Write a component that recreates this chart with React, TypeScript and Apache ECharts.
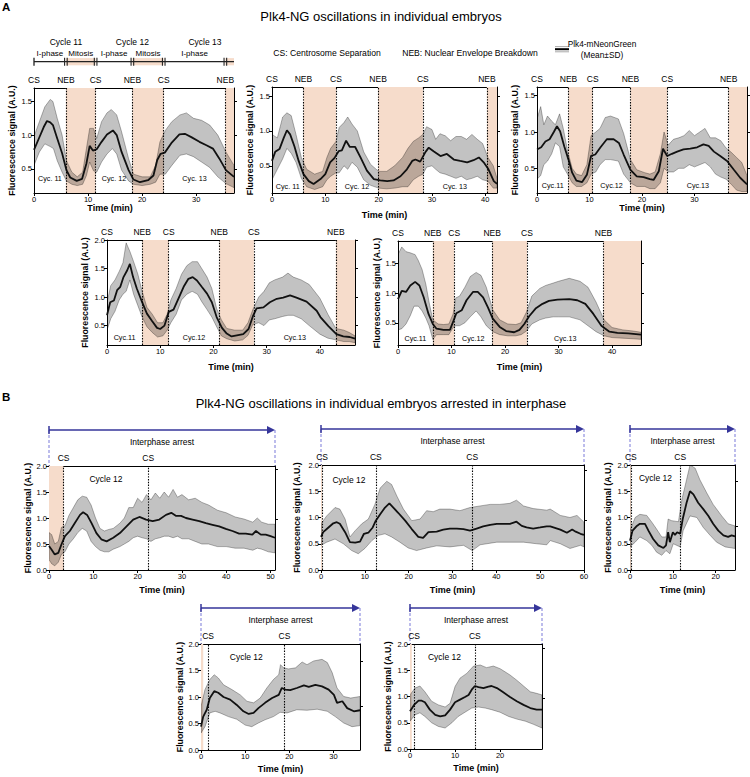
import { useEffect, useRef } from "react";
import * as echarts from "echarts";

type Pt = [number, number];
type Ev = [string, number, boolean];
type Cy = [string, number, number];

// ---------------- Panel A data ----------------
const a1Mean: Pt[] = [[0,0.78],[0.9,0.95],[1.8,1.12],[2.4,1.21],[3.0,1.19],[3.5,1.15],[4.3,0.95],[5.2,0.73],[6.0,0.48],[6.7,0.37],[7.9,0.32],[8.9,0.35],[9.7,0.58],[10.3,0.84],[10.9,0.77],[11.6,0.79],[12.5,0.9],[13.5,1.01],[14.6,1.07],[15.3,1.0],[16.2,0.75],[17.5,0.48],[18.4,0.34],[19.6,0.3],[21.1,0.33],[22.1,0.4],[22.8,0.63],[23.4,0.72],[24.2,0.74],[25.4,0.88],[26.9,1.01],[27.9,1.02],[29.1,0.97],[30.6,0.9],[31.9,0.85],[33.1,0.8],[34.3,0.65],[35.5,0.48],[37,0.38]];
const a1Upper: Pt[] = [[0,0.98],[1,1.2],[2,1.42],[3,1.53],[3.5,1.5],[4.3,1.25],[5.2,1.0],[6,0.62],[7,0.45],[8,0.38],[9,0.45],[9.7,0.8],[10.3,1.1],[11,1.1],[11.6,0.95],[12.5,1.2],[13.5,1.33],[14.3,1.38],[15.3,1.3],[16.2,1.05],[17.5,0.65],[18.4,0.42],[20,0.38],[21.5,0.38],[22.5,0.55],[23.3,0.9],[24.3,1.07],[25.5,1.2],[27,1.3],[28.2,1.33],[29.5,1.25],[31,1.22],[32.5,1.15],[34,1.0],[35.5,0.75],[37,0.55]];
const a1Lower: Pt[] = [[0,0.55],[1,0.75],[2,0.87],[3,0.83],[3.6,0.8],[4.3,0.62],[5.2,0.45],[6,0.32],[7,0.27],[8,0.25],[9,0.27],[9.7,0.4],[10.3,0.6],[11,0.47],[11.6,0.45],[12.5,0.6],[13.5,0.72],[14.5,0.8],[15.3,0.72],[16.2,0.48],[17.5,0.32],[18.4,0.27],[20,0.25],[21.5,0.27],[22.5,0.3],[23.3,0.42],[24.3,0.42],[25.5,0.55],[27,0.7],[28.2,0.72],[29.5,0.68],[31,0.6],[32.5,0.52],[34,0.38],[35.5,0.28],[37,0.22]];
const a1Events: Ev[] = [["CS",0,false],["NEB",5.9,true],["CS",11.4,true],["NEB",18.2,true],["CS",24.0,true],["NEB",35.4,true]];
const a1Mitosis: Pt[] = [[5.9,11.4],[18.2,24.0],[35.4,37]];
const a1Cycles: Cy[] = [["Cyc. 11",0,5.9],["Cyc. 12",11.4,18.2],["Cyc. 13",24.0,35.4]];

const a2Mean: Pt[] = [[0,0.57],[0.6,0.7],[1.4,0.74],[2.2,0.9],[2.8,1.01],[3.4,0.95],[4.2,0.78],[5.0,0.57],[5.9,0.38],[6.9,0.28],[7.8,0.24],[9.1,0.31],[10,0.38],[10.9,0.55],[11.7,0.61],[12.5,0.71],[13.1,0.72],[13.9,0.86],[14.6,0.77],[15.6,0.77],[16.6,0.62],[17.8,0.43],[19.1,0.31],[20.3,0.29],[21.6,0.28],[22.8,0.29],[24.1,0.35],[25.3,0.45],[26.3,0.57],[26.9,0.59],[27.8,0.56],[28.8,0.7],[29.4,0.76],[30.3,0.71],[31.6,0.64],[32.8,0.67],[34.1,0.59],[35.3,0.57],[36.6,0.55],[37.8,0.58],[38.8,0.62],[39.7,0.55],[40.6,0.45],[41.6,0.28],[42.2,0.24]];
const a2Upper: Pt[] = [[0,0.95],[1,0.9],[2,1.2],[2.8,1.26],[3.6,1.22],[4.5,0.95],[5.5,0.62],[6.5,0.45],[8,0.38],[9.5,0.42],[10.3,0.62],[11,0.75],[12,0.85],[12.6,1.05],[13.5,1.12],[14.2,1.2],[15,1.1],[16,1.0],[17.2,0.7],[18.5,0.52],[20,0.42],[21.5,0.42],[23,0.5],[24.5,0.62],[25.5,0.75],[26.5,0.85],[27.5,0.9],[28.3,0.95],[29,1.06],[30,1.02],[30.7,0.88],[31.5,0.96],[32.5,0.93],[33.5,0.86],[34.5,0.92],[35.5,0.92],[36.5,0.88],[37.5,0.95],[38.5,0.88],[39.5,0.82],[40.5,0.62],[41.5,0.5],[42.2,0.32]];
const a2Lower: Pt[] = [[0,0.3],[1,0.45],[2,0.6],[2.8,0.75],[3.6,0.68],[4.5,0.55],[5.5,0.32],[6.5,0.2],[8,0.16],[9.5,0.2],[10.3,0.3],[11,0.35],[12,0.4],[12.6,0.4],[13.5,0.5],[14.2,0.45],[15,0.55],[16,0.48],[17.2,0.3],[18.5,0.22],[20,0.18],[21.5,0.17],[23,0.18],[24.5,0.2],[25.5,0.2],[26.5,0.3],[27.5,0.35],[28.3,0.38],[29,0.48],[30,0.5],[30.7,0.45],[31.5,0.4],[32.5,0.38],[33.5,0.35],[34.5,0.32],[35.5,0.35],[36.5,0.3],[37.5,0.32],[38.5,0.35],[39.5,0.3],[40.5,0.28],[41.5,0.18],[42.2,0.18]];
const a2Events: Ev[] = [["CS",0,false],["NEB",5.9,true],["CS",12.0,true],["NEB",19.9,true],["CS",28.3,true],["NEB",40.3,true]];
const a2Mitosis: Pt[] = [[5.9,12.0],[19.9,28.3],[40.3,42.2]];
const a2Cycles: Cy[] = [["Cyc. 11",0,5.9],["Cyc. 12",12.0,19.9],["Cyc. 13",28.3,40.3]];

const a3Mean: Pt[] = [[0,0.76],[0.8,0.79],[1.6,0.87],[2.4,0.9],[3.2,1.0],[3.8,1.08],[4.4,1.01],[5.2,0.8],[6.0,0.62],[6.7,0.44],[7.5,0.33],[8.6,0.31],[9.5,0.41],[10.3,0.67],[11.1,0.69],[12.1,0.79],[13.3,0.9],[14.6,0.9],[15.6,0.85],[16.5,0.69],[17.8,0.48],[19.0,0.39],[20.3,0.38],[21.5,0.35],[22.2,0.34],[23.2,0.46],[24.0,0.77],[24.8,0.67],[25.7,0.7],[26.7,0.73],[27.9,0.76],[29.2,0.77],[30.5,0.79],[31.7,0.83],[32.7,0.81],[33.7,0.73],[34.9,0.67],[36.2,0.6],[37.5,0.48],[38.7,0.37],[40,0.28]];
const a3Upper: Pt[] = [[0,1.18],[0.7,1.35],[1.3,1.1],[2,1.22],[2.8,1.15],[3.5,1.1],[4.3,1.25],[5,1.05],[5.8,0.75],[6.7,0.5],[7.5,0.42],[8.5,0.4],[9.5,0.55],[10.3,0.95],[11.2,1.0],[12,1.05],[13,1.2],[14,1.22],[15.5,1.18],[16.5,0.98],[17.8,0.62],[19,0.48],[20.5,0.44],[21.5,0.42],[22.5,0.45],[23.5,0.7],[24.2,1.0],[25,0.82],[26,0.9],[27,0.92],[28,0.95],[29,1.02],[30,0.95],[31,1.0],[32,1.05],[33,0.92],[34,0.92],[35,0.88],[36,0.78],[37,0.72],[38,0.65],[39,0.58],[40,0.4]];
const a3Lower: Pt[] = [[0,0.35],[0.7,0.4],[1.3,0.55],[2,0.6],[2.8,0.7],[3.5,0.85],[4.3,0.8],[5,0.52],[5.8,0.42],[6.7,0.3],[7.5,0.25],[8.5,0.25],[9.5,0.3],[10.3,0.42],[11.2,0.45],[12,0.55],[13,0.62],[14,0.62],[15.5,0.6],[16.5,0.42],[17.8,0.3],[19,0.25],[20.5,0.25],[21.5,0.22],[22.5,0.22],[23.5,0.3],[24.2,0.5],[25,0.45],[26,0.45],[27,0.5],[28,0.5],[29,0.55],[30,0.52],[31,0.55],[32,0.58],[33,0.52],[34,0.42],[35,0.38],[36,0.35],[37,0.28],[38,0.2],[39,0.18],[40,0.18]];
const a3Events: Ev[] = [["CS",0,false],["NEB",6.0,true],["CS",10.6,true],["NEB",17.8,true],["CS",24.8,true],["NEB",36.5,true]];
const a3Mitosis: Pt[] = [[6.0,10.6],[17.8,24.8],[36.5,40]];
const a3Cycles: Cy[] = [["Cyc.11",0,6.0],["Cyc.12",10.6,17.8],["Cyc.13",24.8,36.5]];

const a4Mean: Pt[] = [[0,0.68],[0.6,0.91],[1.3,0.94],[1.9,1.12],[2.5,1.18],[3.1,1.35],[3.8,1.47],[4.3,1.58],[4.9,1.35],[5.6,1.15],[6.6,0.91],[7.5,0.71],[8.4,0.59],[9.4,0.46],[10,0.44],[10.8,0.5],[11.6,0.74],[12.5,0.78],[13.4,0.97],[14.4,1.18],[15.3,1.32],[16.1,1.35],[16.9,1.29],[17.8,1.18],[18.8,1.06],[19.7,0.91],[20.6,0.65],[21.6,0.46],[22.5,0.36],[23.4,0.31],[24.4,0.33],[25.6,0.35],[26.6,0.44],[27.4,0.66],[28.1,0.8],[29.4,0.82],[30.6,0.91],[31.9,0.97],[33.1,0.99],[34.4,1.03],[35.6,0.99],[37.5,0.92],[39.4,0.76],[40.1,0.65],[41.6,0.49],[43.1,0.35],[44.4,0.31],[45.6,0.3],[46.6,0.27]];
const a4Upper: Pt[] = [[0,0.9],[0.7,1.2],[1.5,1.3],[2.3,1.45],[3,1.6],[3.6,1.95],[4.3,1.8],[5,1.62],[5.8,1.4],[6.6,1.1],[7.5,0.82],[8.5,0.7],[9.5,0.55],[10.5,0.55],[11.3,0.7],[12,0.95],[13,1.15],[14,1.4],[15,1.55],[16,1.62],[17,1.62],[17.8,1.5],[18.8,1.35],[19.7,1.15],[20.6,0.8],[21.5,0.6],[22.5,0.45],[24,0.42],[25.5,0.42],[26.5,0.55],[27.4,0.78],[28.5,1.0],[29.5,1.1],[30.5,1.25],[31.5,1.3],[33,1.35],[34,1.42],[35,1.35],[36.5,1.3],[38,1.22],[40,0.98],[41.5,0.7],[43,0.45],[44.5,0.42],[45.5,0.38],[46.6,0.32]];
const a4Lower: Pt[] = [[0,0.42],[0.7,0.62],[1.5,0.75],[2.3,0.95],[3,1.05],[3.6,1.1],[4.3,1.3],[5,1.05],[5.8,0.85],[6.6,0.65],[7.5,0.48],[8.5,0.38],[9.5,0.3],[10.5,0.32],[11.3,0.42],[12,0.55],[13,0.7],[14,0.95],[15,1.05],[16,1.1],[17,1.05],[17.8,0.92],[18.8,0.78],[19.7,0.65],[20.6,0.48],[21.5,0.32],[22.5,0.27],[24,0.23],[25.5,0.25],[26.5,0.33],[27.4,0.52],[28.5,0.55],[29.5,0.5],[30.5,0.6],[31.5,0.62],[33,0.66],[34,0.68],[35,0.68],[36.5,0.62],[38,0.5],[40,0.35],[41.5,0.28],[43,0.25],[44.5,0.22],[45.5,0.22],[46.6,0.2]];
const a4Events: Ev[] = [["CS",0,false],["NEB",6.6,true],["CS",11.6,true],["NEB",21.1,true],["CS",27.6,true],["NEB",43.0,true]];
const a4Mitosis: Pt[] = [[6.6,11.6],[21.1,27.6],[43.0,46.6]];
const a4Cycles: Cy[] = [["Cyc.11",0,6.6],["Cyc.12",11.6,21.1],["Cyc.13",27.6,43.0]];

const a5Mean: Pt[] = [[0,0.9],[0.7,1.04],[1.5,1.02],[2.3,1.13],[3.2,1.19],[4.0,1.13],[4.8,0.93],[5.7,0.65],[6.5,0.48],[7.2,0.4],[8.5,0.38],[9.7,0.38],[10.4,0.54],[10.9,0.66],[11.9,0.71],[12.8,0.88],[14.0,1.02],[14.9,1.02],[15.9,0.93],[16.8,0.76],[17.7,0.57],[19.0,0.43],[20.2,0.36],[21.7,0.34],[22.7,0.38],[23.6,0.48],[24.5,0.61],[25.7,0.74],[27.0,0.82],[28.2,0.87],[29.8,0.89],[32,0.9],[33.5,0.88],[35,0.82],[36.5,0.65],[38,0.45],[39.5,0.35],[41,0.33],[43,0.32],[45.4,0.3]];
const a5Upper: Pt[] = [[0,1.65],[0.7,1.78],[1.5,1.7],[2.3,1.68],[3.2,1.65],[3.8,1.55],[4.5,1.4],[5.2,1.15],[5.8,0.85],[6.5,0.55],[7.5,0.48],[8.5,0.47],[9.5,0.48],[10.3,0.65],[10.8,0.92],[11.5,0.95],[12.5,1.1],[13.5,1.28],[14.6,1.35],[15.5,1.3],[16.5,1.1],[17.7,0.72],[19,0.55],[20.5,0.48],[22,0.47],[23,0.5],[24,0.68],[25,0.95],[26.5,1.08],[27.6,1.13],[29,1.17],[30,1.2],[32,1.25],[34,1.2],[35.5,1.1],[37,0.85],[38.5,0.55],[40,0.42],[42,0.38],[44,0.36],[45.4,0.34]];
const a5Lower: Pt[] = [[0,0.38],[0.7,0.4],[1.5,0.48],[2.3,0.62],[3,0.78],[3.8,0.78],[4.5,0.7],[5.2,0.58],[5.8,0.45],[6.5,0.22],[7.2,0.3],[8.5,0.3],[9.5,0.3],[10.3,0.42],[10.8,0.45],[11.5,0.45],[12.5,0.5],[13.5,0.6],[14.6,0.7],[15.5,0.6],[16.5,0.45],[17.7,0.35],[19,0.3],[20.5,0.28],[22,0.28],[23,0.3],[24,0.36],[25,0.48],[26.5,0.55],[27.6,0.58],[29,0.6],[30,0.6],[32,0.6],[34,0.55],[35.5,0.45],[37,0.35],[38.5,0.28],[40,0.25],[42,0.24],[44,0.23],[45.4,0.22]];
const a5Events: Ev[] = [["CS",0,false],["NEB",6.5,true],["CS",10.5,true],["NEB",17.6,true],["CS",24.1,true],["NEB",38.4,true]];
const a5Mitosis: Pt[] = [[6.5,10.5],[17.6,24.1],[38.4,45.4]];
const a5Cycles: Cy[] = [["Cyc.11",0,6.5],["Cyc.12",10.5,17.6],["Cyc.13",24.1,38.4]];

// ---------------- Panel B data ----------------
const b1Mean: Pt[] = [[0,0.46],[0.6,0.39],[1.3,0.3],[2.1,0.33],[2.8,0.49],[3.6,0.65],[4.7,0.75],[5.8,0.9],[7.0,1.06],[7.7,1.11],[8.6,1.06],[9.6,0.9],[10.7,0.71],[11.8,0.59],[13.0,0.55],[14.5,0.62],[16.0,0.71],[17.5,0.84],[19.0,0.97],[20.4,1.02],[21.9,0.97],[23.4,0.94],[24.9,0.97],[26.4,1.06],[27.6,1.1],[28.7,1.04],[29.8,1.04],[30.9,1.0],[32.4,0.97],[33.9,0.94],[35.4,0.9],[36.9,0.87],[38.4,0.84],[39.9,0.79],[41.4,0.75],[42.9,0.7],[44.4,0.7],[45.9,0.68],[46.7,0.75],[47.8,0.68],[48.9,0.68],[50.0,0.65],[51,0.62]];
const b1Upper: Pt[] = [[0,0.72],[0.6,0.68],[1.3,0.5],[2.1,0.55],[2.8,0.82],[3.6,0.85],[4.5,1.05],[5.5,1.2],[6.5,1.35],[7.5,1.42],[8.5,1.4],[9.5,1.25],[10.5,1.0],[11.5,0.8],[12.5,0.75],[13.5,0.78],[14.5,0.8],[16,0.9],[17,1.0],[18,1.2],[19,1.2],[20,1.38],[21,1.3],[22,1.45],[23,1.35],[24,1.48],[25,1.38],[26,1.5],[27,1.4],[28,1.55],[29,1.4],[30,1.45],[31.5,1.35],[33,1.38],[34.5,1.3],[36,1.25],[38,1.15],[40,1.1],[42,1.02],[44,0.98],[46,0.92],[47,1.0],[48,0.92],[49.5,0.88],[51,0.88]];
const b1Lower: Pt[] = [[0,0.2],[0.6,0.12],[1.3,0.08],[2.1,0.15],[2.8,0.3],[3.6,0.35],[4.5,0.5],[5.5,0.6],[6.5,0.72],[7.5,0.8],[8.5,0.75],[9.5,0.55],[10.5,0.45],[11.5,0.38],[12.5,0.35],[13.5,0.35],[14.5,0.4],[16,0.45],[17,0.5],[18,0.55],[19,0.62],[20,0.65],[21,0.62],[22,0.6],[23,0.55],[24,0.6],[25,0.62],[26,0.65],[27,0.65],[28,0.62],[29,0.65],[30,0.6],[31.5,0.6],[33,0.55],[34.5,0.5],[36,0.5],[38,0.45],[40,0.45],[42,0.42],[44,0.42],[46,0.38],[47,0.42],[48,0.4],[49.5,0.35],[51,0.33]];
const b1Events: Ev[] = [["CS",3.3,true],["CS",22.4,true]];
const b1Mitosis: Pt[] = [[0,3.3]];
const b1Cycles: Cy[] = [["Cycle 12",3.3,22.4]];
const b1RightTicks = [0.97, 1.93];

const b2Mean: Pt[] = [[0,0.63],[0.5,0.72],[1.7,0.81],[2.8,0.89],[3.6,0.91],[4.3,0.88],[5.5,0.72],[6.6,0.53],[7.8,0.52],[8.9,0.54],[9.8,0.69],[10.8,0.71],[11.8,0.81],[12.5,0.94],[13.5,1.06],[14.6,1.19],[15.6,1.27],[16.5,1.19],[17.6,1.09],[19.2,0.94],[20.7,0.78],[22.2,0.63],[23.3,0.61],[24.5,0.72],[26.4,0.73],[27.9,0.77],[29.4,0.79],[31.0,0.79],[32.5,0.78],[34.0,0.75],[35.5,0.79],[37.0,0.83],[38.6,0.86],[40.1,0.88],[41.6,0.88],[43.1,0.88],[44.6,0.92],[45.8,0.84],[46.9,0.81],[48.4,0.79],[50.0,0.81],[51.5,0.83],[52.3,0.83],[54.6,0.77],[56.1,0.71],[57.3,0.77],[58.1,0.73],[59.2,0.69],[60,0.67]];
const b2Upper: Pt[] = [[0,0.88],[1.3,1.03],[3.2,1.19],[4.3,1.16],[5.5,0.97],[6.6,0.63],[7.8,0.75],[9.3,0.88],[10.8,0.97],[12.3,1.25],[13.5,1.56],[15.0,1.69],[16.1,1.63],[17.3,1.41],[18.8,1.16],[20.7,0.94],[22.6,0.97],[24.1,1.13],[25.6,1.11],[27.1,1.16],[29.4,1.16],[31.7,1.13],[34.0,1.19],[36.3,1.22],[38.6,1.25],[40.8,1.25],[43.1,1.27],[44.6,1.33],[46.2,1.22],[48.4,1.17],[51.5,1.14],[52.3,1.16],[54.6,1.04],[56.8,1.0],[58.4,1.04],[60,0.91]];
const b2Lower: Pt[] = [[0,0.47],[1.3,0.53],[3.2,0.59],[5.1,0.5],[7.0,0.37],[8.5,0.31],[10.0,0.41],[11.6,0.56],[13.1,0.66],[14.6,0.69],[16.1,0.63],[18.0,0.53],[19.9,0.42],[21.8,0.37],[24.1,0.42],[26.4,0.46],[29.4,0.44],[32.5,0.47],[34.5,0.37],[36.3,0.48],[40.1,0.53],[43.1,0.53],[46.2,0.53],[49.2,0.5],[51.5,0.48],[52.3,0.56],[54.6,0.5],[56.8,0.41],[59.2,0.47],[60,0.44]];
const b2Events: Ev[] = [["CS",0.25,true],["CS",12.5,true],["CS",34.5,true]];
const b2Mitosis: Pt[] = [[0,0.25]];
const b2Cycles: Cy[] = [["Cycle 12",0.25,12.5]];
const b2RightTicks = [0.95, 1.9];

const b3Mean: Pt[] = [[0,0.56],[0.6,0.75],[1.6,0.84],[2.3,0.88],[3.5,0.88],[4.3,0.75],[5.4,0.59],[6.6,0.47],[7.8,0.42],[8.4,0.47],[8.9,0.72],[9.3,0.53],[10.0,0.72],[10.5,0.67],[11.0,0.72],[11.7,0.69],[12.3,0.97],[13.2,1.28],[14.0,1.5],[14.8,1.44],[15.9,1.28],[17.1,1.16],[18.3,1.03],[19.4,0.88],[20.6,0.75],[21.8,0.66],[22.9,0.63],[23.7,0.66],[24.5,0.64]];
const b3Upper: Pt[] = [[0,0.75],[1.2,1.0],[2.3,1.06],[3.9,1.04],[5.1,0.91],[6.2,0.78],[7.4,0.63],[8.4,0.63],[8.9,0.97],[9.7,0.94],[11.3,0.92],[12.1,1.34],[13.2,1.72],[14.0,2.0],[15.2,1.94],[16.3,1.72],[17.9,1.47],[19.4,1.25],[21.4,1.03],[22.9,0.88],[24.5,0.84]];
const b3Lower: Pt[] = [[0,0.44],[1.2,0.53],[2.3,0.63],[3.9,0.56],[5.1,0.47],[6.2,0.34],[7.4,0.28],[8.4,0.37],[9.3,0.31],[10.1,0.5],[11.7,0.44],[12.4,0.75],[14.0,1.03],[15.6,1.0],[17.1,0.81],[18.7,0.66],[20.2,0.53],[22.2,0.44],[24.5,0.41]];
const b3Events: Ev[] = [["CS",0.2,true],["CS",11.7,true]];
const b3Mitosis: Pt[] = [[0,0.2]];
const b3Cycles: Cy[] = [["Cycle 12",0.2,11.7]];
const b3RightTicks = [0.84, 1.69];

const b4Mean: Pt[] = [[0,0.44],[0.5,0.63],[1.3,0.76],[2.0,0.98],[3.0,1.11],[3.9,1.08],[5.1,1.0],[6.6,0.95],[8.1,0.85],[9.6,0.73],[10.8,0.68],[11.9,0.7],[13.0,0.79],[14.5,0.89],[16.1,0.98],[17.6,1.04],[18.3,1.17],[19.1,1.14],[20.2,1.13],[21.7,1.17],[23.3,1.22],[24.4,1.19],[25.9,1.23],[27.4,1.2],[28.9,1.14],[30.1,1.04],[30.8,0.89],[32.0,0.92],[33.1,0.79],[34.6,0.73],[36,0.75]];
const b4Upper: Pt[] = [[0,0.82],[0.9,1.14],[2.0,1.33],[3.0,1.42],[3.9,1.36],[5.1,1.23],[7.0,1.14],[8.9,1.04],[10.4,0.92],[11.9,0.89],[13.4,0.98],[14.9,1.17],[16.4,1.33],[17.6,1.42],[18.0,1.61],[18.7,1.55],[19.8,1.53],[21.4,1.55],[22.9,1.66],[24.0,1.61],[25.5,1.68],[27.4,1.71],[28.6,1.65],[29.7,1.46],[30.8,1.17],[32.3,1.01],[33.9,0.98],[36,1.01]];
const b4Lower: Pt[] = [[0,0.32],[0.9,0.44],[2.0,0.7],[3.2,0.73],[4.3,0.7],[6.2,0.63],[8.1,0.58],[10.0,0.47],[11.5,0.44],[13.0,0.51],[14.5,0.57],[16.4,0.63],[17.9,0.71],[19.5,0.7],[21.7,0.76],[24.0,0.75],[26.3,0.77],[28.6,0.73],[30.4,0.63],[32.3,0.51],[34.2,0.44],[36,0.46]];
const b4Events: Ev[] = [["CS",1.6,true],["CS",18.9,true]];
const b4Mitosis: Pt[] = [[0,0.5]];
const b4Cycles: Cy[] = [["Cycle 12",1.6,18.9]];
const b4RightTicks = [0.82, 1.67];

const b5Mean: Pt[] = [[0,0.72],[0.9,0.84],[1.9,0.92],[2.6,0.92],[3.3,0.89],[4.4,0.75],[5.6,0.65],[6.7,0.62],[7.8,0.64],[8.9,0.75],[10.0,0.89],[11.1,0.94],[12.2,0.99],[13.0,1.03],[13.7,1.13],[14.4,1.2],[15.2,1.18],[16.3,1.16],[17.4,1.19],[18.1,1.2],[19.3,1.16],[20.7,1.08],[22.2,0.99],[23.7,0.91],[25.2,0.84],[26.7,0.78],[28.1,0.75],[29.3,0.75]];
const b5Upper: Pt[] = [[0,1.03],[1.1,1.16],[2.2,1.2],[3.3,1.09],[4.8,0.91],[6.3,0.84],[7.8,0.8],[8.9,0.87],[10.0,1.19],[11.1,1.35],[12.6,1.44],[14.1,1.58],[15.6,1.6],[17.0,1.55],[18.5,1.58],[20.0,1.53],[21.1,1.47],[22.2,1.41],[23.7,1.31],[25.2,1.2],[26.7,1.09],[28.1,1.06],[29.3,1.03]];
const b5Lower: Pt[] = [[0,0.53],[1.1,0.65],[2.2,0.69],[3.3,0.62],[4.8,0.5],[6.3,0.43],[7.8,0.4],[9.3,0.5],[10.7,0.62],[12.2,0.7],[13.7,0.78],[15.2,0.8],[16.7,0.78],[18.1,0.75],[20.0,0.7],[21.9,0.62],[23.7,0.57],[25.6,0.53],[27.4,0.47],[29.3,0.4]];
const b5Events: Ev[] = [["CS",0.9,true],["CS",14.4,true]];
const b5Mitosis: Pt[] = [[0,0.4]];
const b5Cycles: Cy[] = [["Cycle 12",0.9,14.4]];
const b5RightTicks = [0.97, 1.92];

// tick label values
const yTicksA = [0.5, 1.0, 1.5];
const yTicksA4 = [0.5, 1.0, 1.5, 2.0];
const yTicksB = [0, 0.5, 1.0, 1.5, 2.0];
const xTicks30 = [0, 10, 20, 30];
const xTicks40 = [0, 10, 20, 30, 40];
const xTicks20 = [0, 10, 20];
const xTicks50 = [0, 10, 20, 30, 40, 50];
const xTicks60 = [0, 10, 20, 30, 40, 50, 60];

// ---------------- styling / layout ----------------
const FONT = "'Liberation Sans', Arial, Helvetica, sans-serif";
const ORANGE = "#f6dccb";
const BAND = "rgba(0,0,0,0.24)";
const BAND_EDGE = "rgba(0,0,0,0.5)";
const NAVY = "#35359a";
const LILAC = "#9090e0";

type Panel = {
  box: [number, number, number, number];
  x: [number, number];
  y: [number, number];
  xTicks: number[];
  yTicks: number[];
  rTicks: number[];
  mean: Pt[]; upper: Pt[]; lower: Pt[];
  events: Ev[]; shades: Pt[]; cycles: Cy[];
  b: boolean;
  xGap: number; xShift: number; yGap: number; cycGap: number;
};

const panels: Panel[] = [
  { box: [34, 88, 200, 105], x: [0, 37], y: [0.14, 1.7], xTicks: xTicks30, yTicks: yTicksA, rTicks: yTicksA, mean: a1Mean, upper: a1Upper, lower: a1Lower, events: a1Events, shades: a1Mitosis, cycles: a1Cycles, b: false, xGap: 9, xShift: 24, yGap: 18, cycGap: 11 },
  { box: [272, 87, 225, 106], x: [0, 42.2], y: [0.11, 1.63], xTicks: xTicks40, yTicks: yTicksA, rTicks: yTicksA, mean: a2Mean, upper: a2Upper, lower: a2Lower, events: a2Events, shades: a2Mitosis, cycles: a2Cycles, b: false, xGap: 17, xShift: 0, yGap: 18, cycGap: 3 },
  { box: [537, 87, 210, 106], x: [0, 40], y: [0.16, 1.62], xTicks: xTicks30, yTicks: yTicksA, rTicks: yTicksA, mean: a3Mean, upper: a3Upper, lower: a3Lower, events: a3Events, shades: a3Mitosis, cycles: a3Cycles, b: false, xGap: 8, xShift: 0, yGap: 18, cycGap: 4 },
  { box: [107, 240, 248, 105], x: [0, 46.6], y: [0.16, 2.0], xTicks: xTicks40, yTicks: yTicksA4, rTicks: yTicksA4, mean: a4Mean, upper: a4Upper, lower: a4Lower, events: a4Events, shades: a4Mitosis, cycles: a4Cycles, b: false, xGap: 17, xShift: 0, yGap: 18, cycGap: 4 },
  { box: [398, 241, 243, 104], x: [0, 45.4], y: [0.125, 1.88], xTicks: xTicks40, yTicks: yTicksA, rTicks: yTicksA, mean: a5Mean, upper: a5Upper, lower: a5Lower, events: a5Events, shades: a5Mitosis, cycles: a5Cycles, b: false, xGap: 17, xShift: 0, yGap: 17, cycGap: 3 },
  { box: [49, 466, 226, 104], x: [0, 51], y: [0, 2], xTicks: xTicks50, yTicks: yTicksB, rTicks: b1RightTicks, mean: b1Mean, upper: b1Upper, lower: b1Lower, events: b1Events, shades: b1Mitosis, cycles: b1Cycles, b: true, xGap: 15, xShift: 0, yGap: 17, cycGap: 8 },
  { box: [321, 465, 263, 105], x: [0, 60], y: [0, 2], xTicks: xTicks60, yTicks: yTicksB, rTicks: b2RightTicks, mean: b2Mean, upper: b2Upper, lower: b2Lower, events: b2Events, shades: b2Mitosis, cycles: b2Cycles, b: true, xGap: 15, xShift: 0, yGap: 20, cycGap: 10 },
  { box: [630, 465, 105, 105], x: [0, 24.5], y: [0, 2], xTicks: xTicks20, yTicks: yTicksB, rTicks: b3RightTicks, mean: b3Mean, upper: b3Upper, lower: b3Lower, events: b3Events, shades: b3Mitosis, cycles: b3Cycles, b: true, xGap: 15, xShift: 0, yGap: 18, cycGap: 8 },
  { box: [201, 644, 159, 106], x: [0, 36], y: [0, 2], xTicks: xTicks30, yTicks: yTicksB, rTicks: b4RightTicks, mean: b4Mean, upper: b4Upper, lower: b4Lower, events: b4Events, shades: b4Mitosis, cycles: b4Cycles, b: true, xGap: 14, xShift: 0, yGap: 12, cycGap: 8 },
  { box: [410, 644, 132, 105], x: [0, 29.3], y: [0, 2], xTicks: xTicks20, yTicks: yTicksB, rTicks: b5RightTicks, mean: b5Mean, upper: b5Upper, lower: b5Lower, events: b5Events, shades: b5Mitosis, cycles: b5Cycles, b: true, xGap: 14, xShift: 0, yGap: 18, cycGap: 8 },
];

const AX = { color: "#000", width: 1 };

function buildOption() {
  const grid: any[] = [];
  const xAxis: any[] = [];
  const yAxis: any[] = [];
  const series: any[] = [];

  panels.forEach((p, i) => {
    const [l, t, w, h] = p.box;
    grid.push({ left: l, top: t, width: w, height: h, containLabel: false, outerBoundsMode: "none" });
    xAxis.push({
      type: "value", gridIndex: i, min: p.x[0], max: p.x[1], position: "bottom",
      axisLine: { show: true, onZero: false, lineStyle: AX },
      axisTick: { show: true, length: 3, customValues: p.xTicks, lineStyle: AX },
      axisLabel: { show: true, customValues: p.xTicks, fontSize: 7.5, margin: 2, color: "#000", fontFamily: FONT },
      splitLine: { show: false },
      name: "Time (min)", nameLocation: "middle", nameGap: p.xGap,
      nameTextStyle: { fontSize: 9, fontWeight: "bold", color: "#000", fontFamily: FONT, padding: [0, p.xShift * 2, 0, 0] },
    });
    xAxis.push({
      type: "value", gridIndex: i, min: p.x[0], max: p.x[1], position: "top",
      axisLine: { show: true, onZero: false, lineStyle: AX },
      axisTick: { show: false }, axisLabel: { show: false }, splitLine: { show: false },
    });
    yAxis.push({
      type: "value", gridIndex: i, min: p.y[0], max: p.y[1], position: "left",
      axisLine: { show: true, onZero: false, lineStyle: AX },
      axisTick: { show: true, length: 3, customValues: p.yTicks, lineStyle: AX },
      axisLabel: { show: true, customValues: p.yTicks, fontSize: 7.5, margin: 2, color: "#000", fontFamily: FONT, formatter: (v: number) => v.toFixed(1) },
      splitLine: { show: false },
      name: "Fluorescence signal (A.U.)", nameLocation: "middle", nameRotate: 90, nameGap: p.yGap,
      nameTextStyle: { fontSize: 8.8, fontWeight: "bold", color: "#000", fontFamily: FONT },
    });
    yAxis.push({
      type: "value", gridIndex: i, min: p.y[0], max: p.y[1], position: "right",
      axisLine: { show: true, onZero: false, lineStyle: AX },
      axisTick: { show: true, length: 3, customValues: p.rTicks, lineStyle: AX },
      axisLabel: { show: false }, splitLine: { show: false },
    });

    const xi = i * 2;
    const yi = i * 2;

    // orange mitosis shading
    series.push({
      type: "line", xAxisIndex: xi, yAxisIndex: yi, z: 1, silent: true,
      data: p.mean, showSymbol: false, lineStyle: { opacity: 0 },
      markArea: {
        silent: true,
        itemStyle: { color: ORANGE },
        label: { show: false },
        data: p.shades.map(([a, b]) => [{ xAxis: a }, { xAxis: b }]),
      },
    });

    // SD band
    series.push({
      type: "custom", xAxisIndex: xi, yAxisIndex: yi, z: 2, silent: true, clip: true,
      data: [[p.x[0], p.y[0]]],
      encode: { x: 0, y: 1 },
      renderItem: (_params: any, api: any) => {
        const up = p.upper.map((q) => api.coord(q));
        const lo = p.lower.slice().reverse().map((q) => api.coord(q));
        return {
          type: "polygon",
          shape: { points: up.concat(lo) },
          style: { fill: BAND, stroke: BAND_EDGE, lineWidth: 0.6 },
        };
      },
    });

    // mean line + event lines + cycle labels
    series.push({
      type: "line", xAxisIndex: xi, yAxisIndex: yi, z: 3, silent: true,
      data: p.mean, showSymbol: false, symbol: "none",
      lineStyle: { color: "#111", width: 1.8 },
      markLine: {
        silent: true, symbol: ["none", "none"],
        lineStyle: { color: "#000", type: [1.4, 1.4], width: 1.1 },
        label: { show: true, position: "end", formatter: "{b}", fontSize: 8.5, color: "#000", fontFamily: FONT, distance: p.b ? 3.5 : 3.5 },
        data: p.events.map(([name, x, line]) => {
          const d: any = { name, xAxis: x };
          if (!line) d.lineStyle = { color: "rgba(0,0,0,0)", width: 0.01 };
          return d;
        }),
      },
      markArea: {
        silent: true,
        itemStyle: { color: "rgba(0,0,0,0)" },
        label: {
          show: true, position: p.b ? "insideTop" : "insideBottom", distance: p.cycGap,
          fontSize: p.b ? 8.5 : 7.2, color: "#000", fontFamily: FONT,
        },
        data: p.cycles.map(([name, a, b]) => [{ name, xAxis: a }, { xAxis: b }]),
      },
    });
  });

  // --------- graphic: titles, schematic, legend, arrows ---------
  const g: any[] = [];
  const txt = (text: string, x: number, y: number, size: number, opts: any = {}) =>
    g.push({
      type: "text", x, y, silent: true,
      style: { text, fill: "#000", fontSize: size, fontFamily: FONT, align: opts.align || "center", verticalAlign: opts.va || "middle", fontWeight: opts.weight || "normal" },
    });
  const line = (x1: number, y1: number, x2: number, y2: number, stroke: string, lw: number, dash?: number[]) =>
    g.push({ type: "line", silent: true, shape: { x1, y1, x2, y2 }, style: { stroke, lineWidth: lw, lineDash: dash } });

  txt("A", 2, 1, 11.5, { align: "left", va: "top", weight: "bold" });
  txt("Plk4-NG oscillations in individual embryos", 381, 16, 13);
  txt("B", 2, 391, 11.5, { align: "left", va: "top", weight: "bold" });
  txt("Plk4-NG oscillations in individual embryos arrested in interphase", 381, 403, 13);

  // timeline schematic aligned with panel A1
  const p1 = panels[0];
  const sx = (tt: number) => p1.box[0] + ((tt - p1.x[0]) / (p1.x[1] - p1.x[0])) * p1.box[2];
  const ly = 61.7;
  p1.shades.forEach(([a, b]) =>
    g.push({ type: "rect", silent: true, shape: { x: sx(a), y: ly - 3.6, width: sx(b) - sx(a), height: 7.2 }, style: { fill: ORANGE } })
  );
  line(sx(0), ly, sx(p1.x[1]), ly, "#222", 1.3);
  line(sx(0), ly - 4, sx(0), ly + 4, "#222", 1.3);
  p1.events.filter((e) => e[2]).forEach((e) => {
    line(sx(e[1]) - 1.3, ly - 4, sx(e[1]) - 1.3, ly + 4, "#222", 1.1);
    line(sx(e[1]) + 1.3, ly - 4, sx(e[1]) + 1.3, ly + 4, "#222", 1.1);
  });
  txt("Cycle 11", sx(5.9), 42, 8.5);
  txt("Cycle 12", sx(18.2), 42, 8.5);
  txt("Cycle 13", 205, 42, 8.5);
  const bounds = [0, 5.9, 11.4, 18.2, 24.0, 35.4];
  const phases = ["I-phase", "Mitosis", "I-phase", "Mitosis", "I-phase"];
  phases.forEach((ph, k) => txt(ph, (sx(bounds[k]) + sx(bounds[k + 1])) / 2, 53.5, 8));

  // legend
  txt("CS: Centrosome Separation", 327, 53, 8.6);
  txt("NEB: Nuclear Envelope Breakdown", 470, 53, 8.6);
  line(555, 46.6, 569, 46.6, "#aaa", 1);
  line(555, 49.2, 569, 49.2, "#000", 2);
  line(555, 51.8, 569, 51.8, "#aaa", 1);
  txt("Plk4-mNeonGreen", 602, 43.5, 8.3);
  txt("(Mean±SD)", 602, 54.5, 8.3);

  // interphase arrest arrows
  panels.filter((p) => p.b).forEach((p) => {
    const [l, t, w] = p.box;
    const r = l + w;
    const ay = t - 36;
    line(l, ay, l, t, LILAC, 1.2, [3, 2]);
    line(r, ay, r, t, LILAC, 1.2, [3, 2]);
    line(l, ay, r - 6, ay, NAVY, 1.5);
    line(l, ay - 4, l, ay + 4, NAVY, 1.5);
    g.push({ type: "polygon", silent: true, shape: { points: [[r - 8, ay - 4], [r, ay], [r - 8, ay + 4]] }, style: { fill: NAVY } });
    txt("Interphase arrest", (l + r) / 2, ay + 11.5, 8.5);
  });

  return {
    animation: false,
    backgroundColor: "#fff",
    textStyle: { fontFamily: FONT },
    grid, xAxis, yAxis, series,
    graphic: g,
  };
}

export default function App() {
  const ref = useRef<HTMLDivElement>(null);
  useEffect(() => {
    if (!ref.current) return;
    const chart = echarts.init(ref.current, undefined, { renderer: "svg" });
    chart.setOption(buildOption() as any);
    return () => chart.dispose();
  }, []);
  return (
    <div
      ref={ref}
      style={{ position: "absolute", left: 0, top: 0, width: 750, height: 777, background: "#fff" }}
    />
  );
}
